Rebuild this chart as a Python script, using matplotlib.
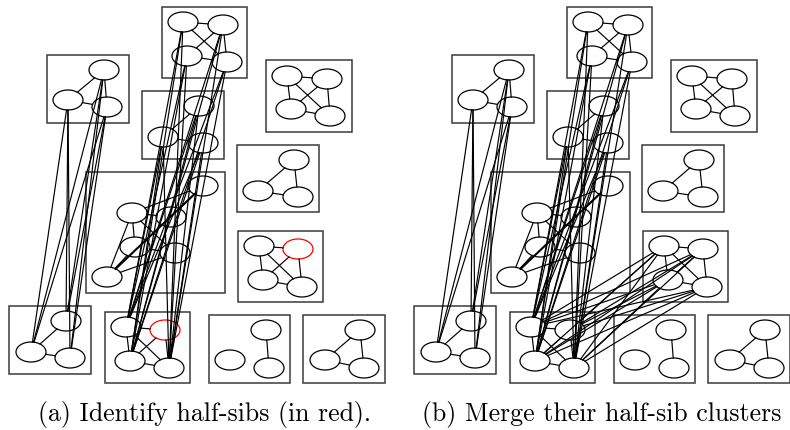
import numpy as np
import matplotlib.pyplot as plt
from matplotlib.patches import Ellipse, Rectangle

# node positions (layout units, y grows downward)
nodes_a = {"a1": (183, 22), "a2": (223, 25), "a3": (187, 56), "a4": (227, 62)}
nodes_b = {"b1": (104, 70), "b2": (68, 100), "b3": (107, 107)}
nodes_c = {"c1": (287, 76), "c2": (327, 79), "c3": (291, 109), "c4": (330, 116)}
nodes_d = {"d1": (199, 106), "d2": (163, 137), "d3": (203, 143)}
nodes_e = {"e1": (294, 160), "e2": (258, 191), "e3": (298, 197)}
nodes_f = {"f1": (203, 186), "f2": (132, 213), "f3": (171, 217),
           "f4": (135, 247), "f5": (175, 253), "f6": (107, 277)}
nodes_g = {"g1": (259, 246), "g2": (298, 249), "g3": (263, 280), "g4": (302, 287)}
nodes_h = {"h1": (66, 321), "h2": (31, 352), "h3": (70, 358)}
nodes_i = {"i1": (126, 327), "i2": (165, 330), "i3": (130, 361), "i4": (169, 368)}
nodes_j = {"j1": (266, 330), "j2": (230, 360), "j3": (269, 368)}
nodes_k = {"k1": (360, 330), "k2": (325, 360), "k3": (364, 368)}

clusters = [nodes_a, nodes_b, nodes_c, nodes_d, nodes_e, nodes_f,
            nodes_g, nodes_h, nodes_i, nodes_j, nodes_k]

# cluster boxes: left, top, right, bottom
boxes = [(162, 7, 247, 78), (47, 55, 129, 123), (266, 60, 352, 132),
         (142, 91, 224, 159), (237, 145, 319, 212), (86, 172, 225, 293),
         (238, 231, 323, 302), (9, 306, 91, 374), (105, 312, 190, 383),
         (209, 315, 290, 383), (303, 315, 385, 383)]

# edges inside clusters
inner_edges = [("a1", "a2"), ("a1", "a4"), ("a2", "a3"), ("a2", "a4"), ("a3", "a4"),
               ("b1", "b2"), ("b2", "b3"), ("b1", "b3"),
               ("c1", "c2"), ("c1", "c3"), ("c1", "c4"), ("c2", "c3"), ("c2", "c4"), ("c3", "c4"),
               ("d1", "d2"), ("d2", "d3"),
               ("e1", "e2"), ("e1", "e3"), ("e2", "e3"),
               ("f1", "f2"), ("f2", "f3"), ("f2", "f4"), ("f2", "f5"), ("f2", "f6"),
               ("f4", "f5"), ("f4", "f6"), ("f5", "f6"), ("f1", "f6"), ("f1", "f3"),
               ("g1", "g2"), ("g1", "g3"), ("g1", "g4"), ("g2", "g3"), ("g2", "g4"), ("g3", "g4"),
               ("h1", "h2"), ("h2", "h3"),
               ("i1", "i2"), ("i1", "i3"), ("i1", "i4"), ("i2", "i3"), ("i2", "i4"), ("i3", "i4"),
               ("j1", "j3"),
               ("k1", "k2"), ("k1", "k3"), ("k2", "k3")]

# parent links between clusters
cross_edges = [(p, c) for p in nodes_b for c in nodes_h]
cross_edges += [(p, c) for p in list(nodes_a) + list(nodes_d) for c in ["i1", "i3", "i4"]]

# links added when the half-sib clusters are merged
merge_edges = [(p, c) for p in nodes_g for c in nodes_i]

half_sibs = ["i2", "g2"]

pos = {}
for cl in clusters:
    pos.update(cl)

W, H = 30, 20


def clip(p, q):
    # move the end point from the centre to the ellipse border
    d = np.array(q, float) - np.array(p, float)
    s = 1.0 / np.sqrt((d[0] / (W / 2)) ** 2 + (d[1] / (H / 2)) ** 2)
    return np.array(p, float) + s * d


def draw_panel(ax, edges, red):
    for (l, t, r, b) in boxes:
        ax.add_patch(Rectangle((l, t), r - l, b - t, fill=False, ec="#3a3a3a", lw=1.1))
    for u, v in edges:
        p0 = clip(pos[u], pos[v])
        p1 = clip(pos[v], pos[u])
        lw = 1.5 if (u, v) == ("f1", "f6") else 0.85
        ax.plot([p0[0], p1[0]], [p0[1], p1[1]], color="black", lw=lw)
    for n, (x, y) in pos.items():
        col = "red" if n in red else "black"
        ax.add_patch(Ellipse((x, y), W, H, fill=False, ec=col, lw=0.9))
    ax.set_xlim(0, 395)
    ax.set_ylim(430, 0)
    ax.set_aspect("auto")
    ax.axis("off")


fig = plt.figure(figsize=(7.9, 4.3), dpi=100)
ax1 = fig.add_axes([0, 0, 395 / 790, 1])
ax2 = fig.add_axes([405 / 790, 0, 395 / 790, 1])

draw_panel(ax1, inner_edges + cross_edges, half_sibs)
draw_panel(ax2, inner_edges + cross_edges + merge_edges, [])

fig.text(205 / 790, 1 - 414 / 430, "(a) Identify half-sibs (in red).",
         family="cmr10", fontsize=18.6, ha="center", va="center")
fig.text(422 / 790, 1 - 414 / 430, "(b) Merge their half-sib clusters",
         family="cmr10", fontsize=18.6, ha="left", va="center")

fig.savefig("out.png", dpi=100)
